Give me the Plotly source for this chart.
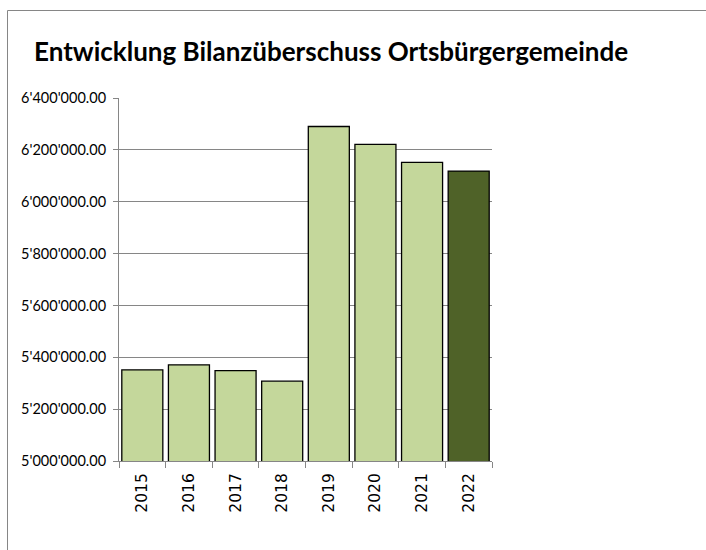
import plotly.graph_objects as go

years = ["2015", "2016", "2017", "2018", "2019", "2020", "2021", "2022"]
values = [5351500, 5370800, 5348800, 5307700, 6290000, 6220800, 6151500, 6118000]
bar_colors = ["#C4D79B"] * 7 + ["#4F6228"]
title_text = "Entwicklung Bilanzüberschuss Ortsbürgergemeinde"

W, H = 706, 550
L, R, T, B = 119, 492, 98, 461

fig = go.Figure(go.Bar(
    x=years, y=values,
    marker=dict(color=bar_colors, line=dict(color="#000000", width=1.3)),
))

def px_x(p):
    return (p - L) / (R - L)

def px_y(p):
    return (B - p) / (B - T)

fig.update_layout(
    width=W, height=H,
    margin=dict(l=L, r=W - R, t=T, b=H - B),
    paper_bgcolor="white", plot_bgcolor="white",
    separators=".'",
    bargap=0.12,
    showlegend=False,
    title=dict(text="<b>" + title_text + "</b>", x=34 / W, xref="container", xanchor="left",
               y=(H - 52) / H, yref="container", yanchor="middle",
               font=dict(family="Lato, Open Sans, sans-serif", size=26, color="#000000")),
    xaxis=dict(
        tickangle=-90,
        tickfont=dict(family="DejaVu Sans, sans-serif", size=15.5, color="#000000"),
        showline=True, linecolor="#868686", linewidth=1,
        ticks="outside", ticklen=6, tickcolor="#868686", tickson="boundaries",
        ticklabelstandoff=5,
        showgrid=False,
    ),
    yaxis=dict(
        range=[5000000, 6400000], dtick=200000, tickformat=",.2f",
        tickfont=dict(family="Lato, sans-serif", size=14.5, color="#000000"),
        showline=True, linecolor="#868686", linewidth=1,
        ticks="outside", ticklen=5, tickcolor="#868686",
        ticklabelstandoff=4,
        showgrid=True, gridcolor="#868686", gridwidth=1,
        zeroline=False,
    ),
    shapes=[dict(type="rect", xref="paper", yref="paper",
                 x0=px_x(7.5), x1=px_x(720), y0=px_y(560), y1=px_y(10.5),
                 line=dict(color="#868686", width=1), fillcolor="rgba(0,0,0,0)",
                 layer="below")],
)

fig.write_html("out.html", config={"displayModeBar": False},
               post_script="document.body.style.margin='0';document.body.style.overflow='hidden';")
